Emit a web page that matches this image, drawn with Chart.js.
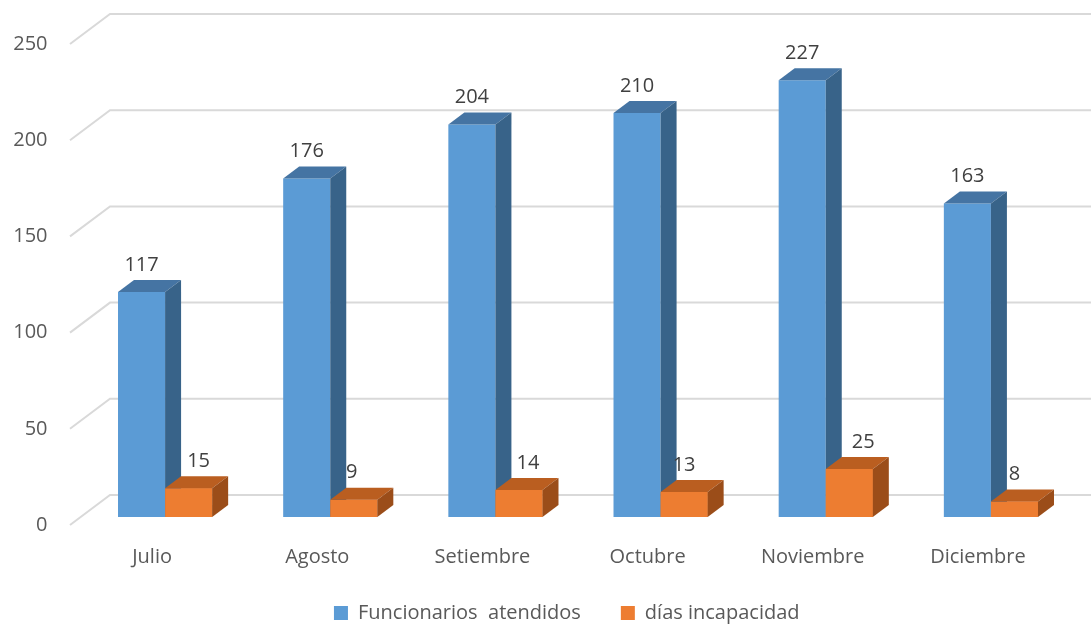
<!DOCTYPE html>
<html>
<head>
<meta charset="utf-8">
<script src="https://cdn.jsdelivr.net/npm/chart.js@4.4.0/dist/chart.umd.min.js"></script>
<style>
  html, body { margin: 0; padding: 0; background: #fff; }
</style>
</head>
<body>
<canvas id="chart" width="1091" height="630"></canvas>
<script>
const months = ['Julio', 'Agosto', 'Setiembre', 'Octubre', 'Noviembre', 'Diciembre'];
const funcionarios = [117, 176, 204, 210, 227, 163];
const diasIncapacidad = [15, 9, 14, 13, 25, 8];
const yTicks = [0, 50, 100, 150, 200, 250];

// 3d look: depth of the bars and of the floor/wall
const DX = 16, DY = -12;
const WALL_DX = 40, WALL_DY = -30;
const orangeNudge = [10, -2, 9, 0, 14, 0];

function poly(ctx, pts, color) {
  ctx.beginPath();
  ctx.moveTo(pts[0][0], pts[0][1]);
  for (let i = 1; i < pts.length; i++) ctx.lineTo(pts[i][0], pts[i][1]);
  ctx.closePath();
  ctx.fillStyle = color;
  ctx.fill();
}

function faces(ctx, bar, ds) {
  const p = bar.getProps(['x', 'y', 'base', 'width'], true);
  const l = p.x - p.width / 2, r = p.x + p.width / 2;
  poly(ctx, [[l, p.y], [r, p.y], [r + DX, p.y + DY], [l + DX, p.y + DY]], ds.topColor);
  poly(ctx, [[r, p.y], [r + DX, p.y + DY], [r + DX, p.base + DY], [r, p.base]], ds.sideColor);
}

const fake3d = {
  id: 'fake3d',
  afterLayout(chart) {
    // legend sits a bit right of the canvas centre in the original
    const lg = chart.legend;
    lg.left += 30;
    lg.right += 30;
    lg.top = 563;
    lg.bottom = 630;
  },
  beforeDatasetsDraw(chart) {
    const ctx = chart.ctx;
    const yScale = chart.scales.y;
    const left = chart.chartArea.left - 12.5;
    ctx.save();
    ctx.strokeStyle = '#d9d9d9';
    ctx.lineWidth = 2;
    yTicks.forEach(v => {
      const y = yScale.getPixelForValue(v);
      ctx.beginPath();
      ctx.moveTo(left, y + 8);
      ctx.lineTo(left + WALL_DX, y + 8 + WALL_DY);
      ctx.lineTo(chart.width, y + 8 + WALL_DY);
      ctx.stroke();
    });
    ctx.restore();
  },
  afterDatasetsDraw(chart) {
    const ctx = chart.ctx;
    const blue = chart.data.datasets[0], orange = chart.data.datasets[1];
    ctx.save();
    chart.getDatasetMeta(0).data.forEach(bar => faces(ctx, bar, blue));
    // orange sits in front of the blue side face, so paint it again on top
    chart.getDatasetMeta(1).data.forEach(bar => {
      bar.draw(ctx);
      faces(ctx, bar, orange);
    });
    ctx.restore();
  },
  afterDraw(chart) {
    const ctx = chart.ctx;
    ctx.save();
    ctx.font = '20px "Open Sans"';
    ctx.fillStyle = '#404040';
    ctx.textAlign = 'center';
    ctx.textBaseline = 'middle';
    chart.data.datasets.forEach((ds, di) => {
      chart.getDatasetMeta(di).data.forEach((bar, i) => {
        const nudge = di === 1 ? orangeNudge[i] : 0;
        ctx.fillText(String(ds.data[i]), bar.x + nudge, bar.y - 27);
      });
    });
    ctx.restore();
  }
};

new Chart(document.getElementById('chart'), {
  type: 'bar',
  data: {
    labels: months,
    datasets: [{
      label: 'Funcionarios  atendidos',
      data: funcionarios,
      backgroundColor: '#5b9bd5',
      topColor: '#4574a3',
      sideColor: '#386389'
    }, {
      label: 'días incapacidad',
      data: diasIncapacidad,
      backgroundColor: '#ed7d31',
      topColor: '#ba5e20',
      sideColor: '#9b4d19'
    }]
  },
  options: {
    responsive: false,
    animation: false,
    devicePixelRatio: 1,
    layout: { padding: { left: 0, right: 17.5, top: 36, bottom: 11 } },
    datasets: { bar: { barPercentage: 1, categoryPercentage: 0.57 } },
    scales: {
      x: {
        grid: { display: false, drawTicks: false },
        border: { display: false },
        ticks: {
          color: '#595959',
          font: { family: 'Open Sans', size: 20 },
          padding: 28,
          labelOffset: -13
        },
        afterFit(scale) { scale.height = 52; }
      },
      y: {
        min: 0,
        max: 250,
        grid: { display: false, drawTicks: false },
        border: { display: false },
        ticks: {
          stepSize: 50,
          color: '#595959',
          font: { family: 'Open Sans', size: 20 },
          padding: 35,
          labelOffset: 8
        },
        afterFit(scale) {
          scale.width = 82.5;
          scale.paddingTop = 0;
          scale.paddingBottom = 0;
        }
      }
    },
    plugins: {
      tooltip: { enabled: false },
      legend: {
        position: 'bottom',
        maxHeight: 50,
        labels: {
          color: '#595959',
          font: { family: 'Open Sans', size: 20 },
          boxWidth: 14,
          boxHeight: 14,
          padding: 40
        }
      }
    }
  },
  plugins: [fake3d]
});
</script>
</body>
</html>
